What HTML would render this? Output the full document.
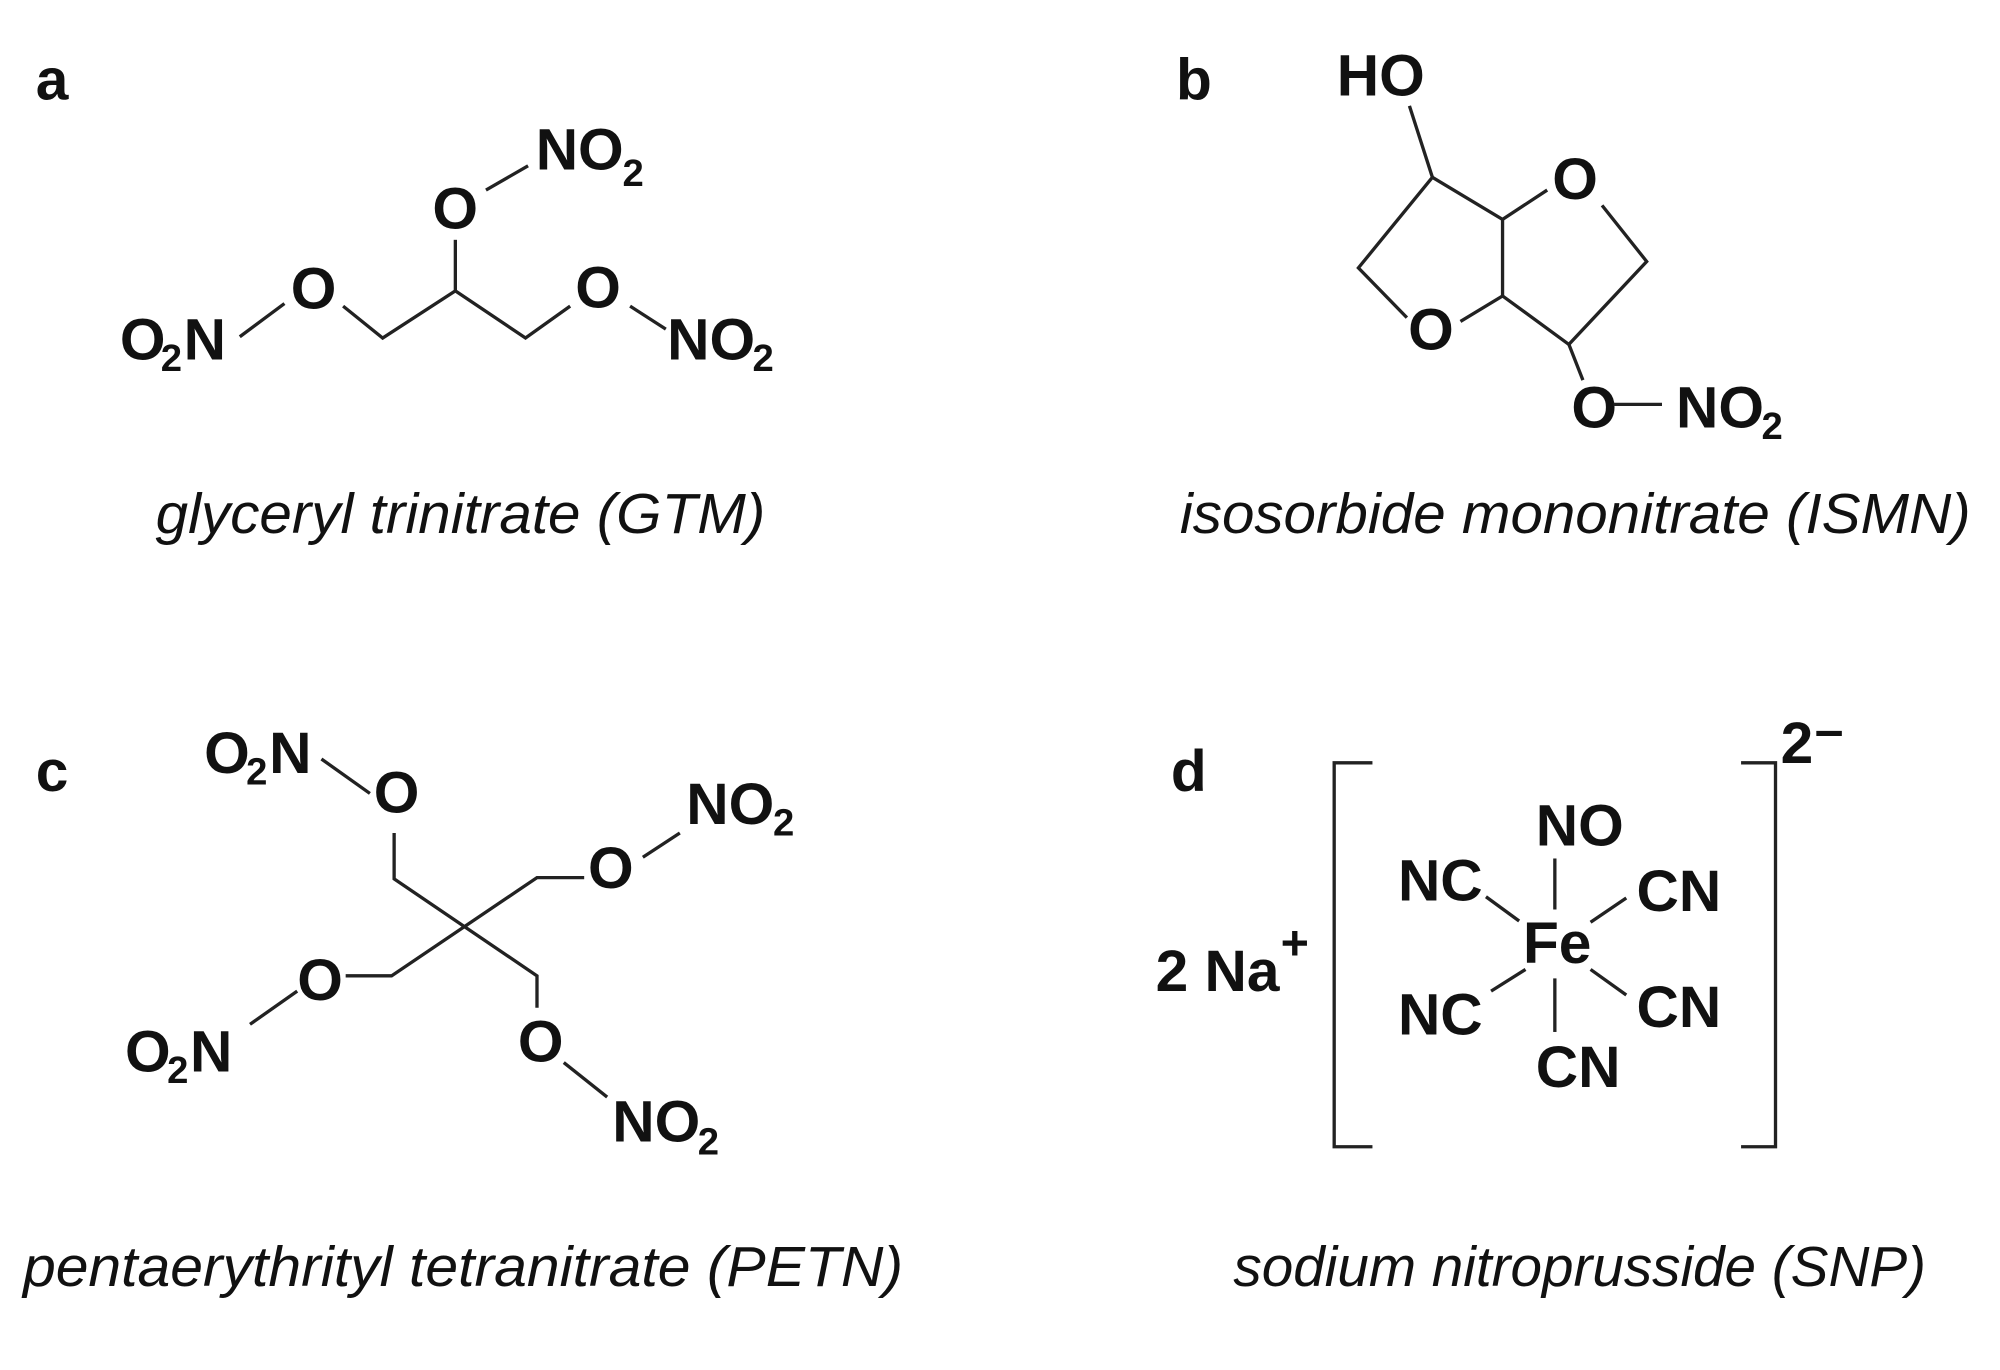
<!DOCTYPE html>
<html><head><meta charset="utf-8"><style>
html,body{margin:0;padding:0;background:#fff;}
svg{display:block;}
.l{font-family:"Liberation Sans",sans-serif;font-weight:bold;font-size:46px;fill:#111;}
.s{font-family:"Liberation Sans",sans-serif;font-weight:bold;font-size:30px;fill:#111;}
.c{font-family:"Liberation Sans",sans-serif;font-style:italic;font-size:44px;fill:#111;}
line,polyline{stroke:#222;stroke-width:2.6;fill:none;}
</style></head><body>
<svg width="2000" height="1370" viewBox="0 0 1568 1074" preserveAspectRatio="none" xmlns="http://www.w3.org/2000/svg">
<!-- a -->
<text class="l" x="28" y="78">a</text>
<text class="l" x="94" y="282">O</text><text class="s" x="126" y="291">2</text><text class="l" x="144" y="282">N</text>
<line x1="188" y1="264" x2="223" y2="238"/>
<text class="l" x="228" y="242" >O</text>
<polyline points="269,240 300,265 357,228 412,265 447,240"/>
<line x1="357" y1="228" x2="357" y2="188"/>
<text class="l" x="339" y="179">O</text>
<line x1="381" y1="149" x2="414" y2="130"/>
<text class="l" x="420" y="133">NO</text><text class="s" x="488" y="146">2</text>
<text class="l" x="451" y="241">O</text>
<line x1="494" y1="240" x2="522" y2="258"/>
<text class="l" x="523" y="282">NO</text><text class="s" x="590" y="291">2</text>
<text class="c" x="122" y="418" textLength="478" lengthAdjust="spacingAndGlyphs">glyceryl trinitrate (GTM)</text>
<!-- b -->
<text class="l" x="922" y="78">b</text>
<text class="l" x="1048" y="75">HO</text>
<line x1="1105" y1="83" x2="1123" y2="139"/>
<polyline points="1123,139 1178,172 1213,149"/>
<polyline points="1256,161 1291,205 1230,270 1178,232 1145,252"/>
<line x1="1178" y1="172" x2="1178" y2="232"/>
<polyline points="1103,249 1065,210 1123,139"/>
<text class="l" x="1217" y="156">O</text>
<text class="l" x="1104" y="274">O</text>
<line x1="1230" y1="270" x2="1241" y2="298"/>
<text class="l" x="1232" y="335">O</text>
<line x1="1265" y1="317" x2="1303" y2="317"/>
<text class="l" x="1314" y="335">NO</text><text class="s" x="1381" y="344">2</text>
<text class="c" x="925" y="418" textLength="620" lengthAdjust="spacingAndGlyphs">isosorbide mononitrate (ISMN)</text>
<!-- c -->
<text class="l" x="28" y="620">c</text>
<text class="l" x="160" y="606">O</text><text class="s" x="193" y="615">2</text><text class="l" x="211" y="606">N</text>
<line x1="252" y1="595" x2="290" y2="622"/>
<text class="l" x="293" y="637">O</text>
<polyline points="309,653 309,689 421,765 421,790"/>
<polyline points="271,765 307,765 421,688 458,688"/>
<text class="l" x="461" y="696">O</text>
<line x1="504" y1="672" x2="533" y2="653"/>
<text class="l" x="538" y="646">NO</text><text class="s" x="606" y="655">2</text>
<text class="l" x="233" y="784">O</text>
<line x1="233" y1="777" x2="196" y2="803"/>
<text class="l" x="98" y="840">O</text><text class="s" x="131" y="849">2</text><text class="l" x="149" y="840">N</text>
<text class="l" x="406" y="832">O</text>
<line x1="442" y1="833" x2="476" y2="860"/>
<text class="l" x="480" y="895">NO</text><text class="s" x="547" y="905">2</text>
<text class="c" x="18" y="1008" textLength="690" lengthAdjust="spacingAndGlyphs">pentaerythrityl tetranitrate (PETN)</text>
<!-- d -->
<text class="l" x="918" y="620">d</text>
<polyline points="1076,598 1046,598 1046,899 1076,899"/>
<polyline points="1365,598 1392,598 1392,899 1365,899"/>
<text class="l" x="1396" y="598">2</text>
<line x1="1424" y1="575" x2="1444" y2="575" style="stroke:#111;stroke-width:4"/>
<text class="l" x="1204" y="663">NO</text>
<line x1="1219" y1="673" x2="1219" y2="713"/>
<text class="l" x="1194" y="755">Fe</text>
<line x1="1219" y1="767" x2="1219" y2="809"/>
<text class="l" x="1204" y="852">CN</text>
<text class="l" x="1096" y="706">NC</text>
<line x1="1165" y1="703" x2="1191" y2="722"/>
<text class="l" x="1283" y="714">CN</text>
<line x1="1275" y1="704" x2="1247" y2="723"/>
<text class="l" x="1096" y="811">NC</text>
<line x1="1196" y1="760" x2="1169" y2="777"/>
<text class="l" x="1283" y="805">CN</text>
<line x1="1247" y1="760" x2="1275" y2="780"/>
<text class="l" x="906" y="777">2 Na</text>
<text class="l" x="1004" y="752" style="font-size:38px">+</text>
<text class="c" x="967" y="1008" textLength="543" lengthAdjust="spacingAndGlyphs">sodium nitroprusside (SNP)</text>
</svg>
</body></html>
